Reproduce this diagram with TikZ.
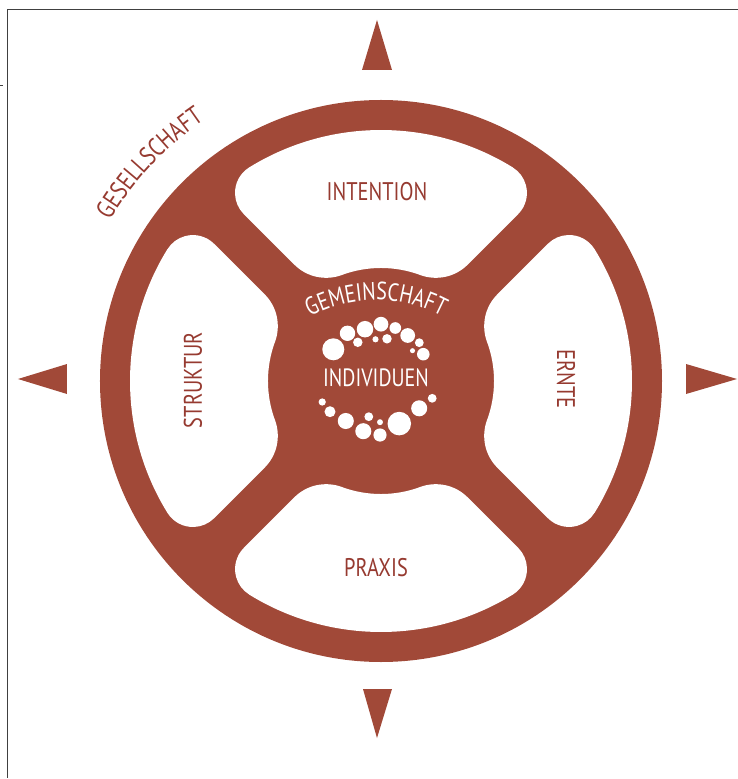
\documentclass[tikz,border=0pt]{standalone}
\usepackage{fontspec}
\setmainfont{PT Sans}
\newfontfamily\labfont[FakeStretch=0.8]{PT Sans}
\usetikzlibrary{decorations.text}
\definecolor{wheel}{RGB}{161,73,56}
\definecolor{labbrown}{RGB}{150,58,48}
\begin{document}
\begin{tikzpicture}[x=1pt,y=1pt,
  padshape/.style={fill=white,draw=none},
  padlabel/.style={text=labbrown,font=\labfont\fontsize{25.5}{25.5}\selectfont,inner sep=0pt},
  hublabel/.style={text=white,font=\labfont\fontsize{25}{25}\selectfont,inner sep=0pt},
  dot/.style={fill=white,draw=none},
  pointer/.style={fill=wheel,draw=none},
  frameline/.style={draw=black!75,line width=1pt}]
\useasboundingbox (-381,-398) rectangle (357,381);
% frame
\draw[frameline] (357,371) -- (-373,371) -- (-373,-397);
\draw[frameline] (-381,295) -- (-378,295);
% pointers
\fill[pointer] (-4,361) -- (-19,311) -- (11,311) -- cycle;
\fill[pointer] (-363,2) -- (-314,17) -- (-314,-13) -- cycle;
\fill[pointer] (356,2) -- (305,17) -- (305,-13) -- cycle;
\fill[pointer] (-4,-357) -- (-18,-308) -- (11,-308) -- cycle;
% wheel
\fill[wheel] (0,0) circle[radius=281];
\foreach \a in {0,90,180,270}{
  \fill[padshape,rotate=\a] (-31.66:251pt) arc[start angle=-31.66,end angle=31.66,radius=251pt]
    arc[start angle=31.66,end angle=135,radius=30pt]
    -- (36.68:145.1pt)
    arc[start angle=135,end angle=200.32,radius=45pt]
    arc[start angle=20.32,end angle=-20.32,radius=113pt]
    arc[start angle=159.68,end angle=225,radius=45pt]
    -- (-39.42:216pt)
    arc[start angle=225,end angle=328.34,radius=30pt]
    -- cycle;
}
% dots
\foreach \x/\y/\r in {-47.7/31.7/10, -33.5/47.7/7, -23.2/38.7/4.3, -16/51.8/7.5, 0/56.8/6.7,
  -5.5/41.7/2.8, 6/42.2/4.3, 14.3/53/5.3, 26.7/45.5/6.7, 38.3/38.3/4, 31.5/30.3/2.3, 42.3/26.8/5.7,
  -58.8/-21/3.3, -51/-30.7/5, -35.2/-40/7.3, -12.2/-35.7/4, -1/-41.2/2.7, -17.7/-50.2/7.3,
  -1/-54/6, 18.3/-42.6/10.7, 38.2/-27.3/7.3, 51.2/-17.3/4}
  \fill[dot] (\x,\y) circle[radius=1.1*\r];
% labels
\node[padlabel] (intention) at (-4,189) {INTENTION};
\node[padlabel] (praxis) at (-5,-187) {PRAXIS};
\node[padlabel,rotate=90] (struktur) at (-188,1) {STRUKTUR};
\node[padlabel,rotate=-90] (ernte) at (185,2) {ERNTE};
\node[hublabel] (individuen) at (-5,3.5) {INDIVIDUEN};
\path[decorate,decoration={text along path,text align=center,
  text={|\labfont\fontsize{25}{25}\selectfont\color{white}|GEMEINSCHAFT}}]
  (-95,48.2) arc[start angle=130,end angle=50,radius=140];
\path[decorate,decoration={text along path,text align=center,
  text={|\labfont\fontsize{26}{26}\selectfont\color{labbrown}|GESELLSCHAFT}}]
  (-296.0,107.7) arc[start angle=160,end angle=113.5,radius=315];
\end{tikzpicture}
\end{document}
